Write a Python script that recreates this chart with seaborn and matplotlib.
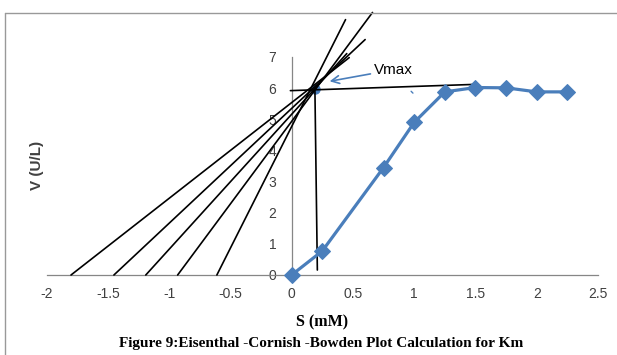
import matplotlib
matplotlib.use("Agg")
import matplotlib.pyplot as plt
from matplotlib.lines import Line2D
import numpy as np
import pandas as pd
import seaborn as sns

# Measured rate vs substrate concentration
substrate = [0.0, 0.25, 0.75, 1.0, 1.25, 1.5, 1.75, 2.0, 2.25]
velocity = [0.0, 0.77, 3.45, 4.9, 5.88, 6.02, 6.01, 5.88, 5.88]

# Eisenthal-Cornish-Bowden construction lines: start on the S axis at -S_i,
# end at the drawn end point beyond the common intersection
line_start_s = [-1.80, -1.45, -1.19, -0.93, -0.61]
line_end_s = [0.47, 0.60, 0.45, 0.66, 0.44]
line_end_v = [6.98, 7.56, 7.11, 8.43, 8.20]

# Read-off lines through the intersection (Vmax level and Km drop)
vmax_line_s = [-0.01, 1.49]
vmax_line_v = [5.92, 6.12]
km_line_s = [0.19, 0.21]
km_line_v = [6.00, 0.16]

# Common intersection point
intersect_s = [0.19]
intersect_v = [5.96]

x_ticks = [-2, -1.5, -1, -0.5, 0, 0.5, 1, 1.5, 2, 2.5]
x_tick_labels = ["-2", "-1.5", "-1", "-0.5", "0", "0.5", "1", "1.5", "2", "2.5"]
y_ticks = [0, 1, 2, 3, 4, 5, 6, 7]

sns.set_style("white")
plt.rcParams["font.family"] = ["Liberation Sans Narrow", "Liberation Sans", "DejaVu Sans"]

blue = "#4a7ebb"
axis_grey = "#868686"
text_dark = "#404040"

fig = plt.figure(figsize=(6.17, 3.55), dpi=100)
ax = fig.add_axes([46.5 / 617, 80 / 355, 551.5 / 617, 218 / 355])

df = pd.DataFrame({"S": substrate, "V": velocity})

# construction lines (drawn over the axes area, not clipped)
for s0, s1, v1 in zip(line_start_s, line_end_s, line_end_v):
    ax.plot([s0, s1], [0, v1], color="black", lw=1.2, clip_on=False, zorder=4)
ax.plot(vmax_line_s, vmax_line_v, color="black", lw=1.2, clip_on=False, zorder=4)
ax.plot(km_line_s, km_line_v, color="black", lw=1.2, clip_on=False, zorder=4)

ax.plot(intersect_s, intersect_v, marker="o", ms=6.5, color=blue, ls="none",
        zorder=3, clip_on=False)

sns.lineplot(data=df, x="S", y="V", ax=ax, color=blue, lw=2.3, marker="D",
             markersize=8.5, markeredgecolor=blue, zorder=5, clip_on=False)

# small stray tick near the plateau
ax.plot([0.975, 0.99], [5.9, 5.84], color=blue, lw=1.0, zorder=3)

ax.set_xlim(-2, 2.5)
ax.set_ylim(0, 7)

for side in ["top", "right"]:
    ax.spines[side].set_visible(False)
ax.spines["left"].set_position(("data", 0))
ax.spines["left"].set_color(axis_grey)
ax.spines["bottom"].set_color(axis_grey)
ax.spines["left"].set_linewidth(0.9)
ax.spines["bottom"].set_linewidth(0.9)

ax.set_xticks(x_ticks)
ax.set_xticklabels(x_tick_labels)
ax.set_yticks(y_ticks)
ax.tick_params(axis="both", which="major", direction="out", length=5,
               width=0.9, color=axis_grey, labelsize=10, labelcolor=text_dark)
ax.tick_params(axis="x", pad=4)
ax.tick_params(axis="y", pad=6)
ax.set_xlabel("")
ax.set_ylabel("")

# Vmax annotation with arrow
ax.annotate("Vmax", xy=(0.31, 6.22), xytext=(0.67, 6.59), fontsize=11,
            color="black", ha="left", va="center",
            arrowprops=dict(arrowstyle="->", color=blue, lw=1.2,
                            mutation_scale=14, shrinkA=0, shrinkB=0),
            annotation_clip=False, zorder=6)

# axis titles and caption
fig.text(37 / 617, 1 - 165 / 355, "V (U/L)", rotation=90, ha="center", va="center",
         fontsize=11, fontweight="bold", color=text_dark,
         family=["Liberation Sans", "DejaVu Sans"])
fig.text(322 / 617, 1 - 322 / 355, "S (mM)", ha="center", va="center",
         fontsize=11.5, fontweight="bold", color="black",
         family=["Liberation Serif", "DejaVu Serif"])
fig.text(321 / 617, 1 - 343 / 355,
         "Figure 9:Eisenthal -Cornish -Bowden Plot Calculation for Km",
         ha="center", va="center", fontsize=11, fontweight="bold", color="black",
         family=["Liberation Serif", "DejaVu Serif"])

# outer chart frame
fig.add_artist(Line2D([4.5 / 617, 4.5 / 617], [0, 1 - 12.5 / 355],
                      transform=fig.transFigure, color="#999999", lw=1.0))
fig.add_artist(Line2D([4.5 / 617, 1], [1 - 12.5 / 355, 1 - 12.5 / 355],
                      transform=fig.transFigure, color="#999999", lw=1.0))

fig.savefig("out.png", dpi=100)
